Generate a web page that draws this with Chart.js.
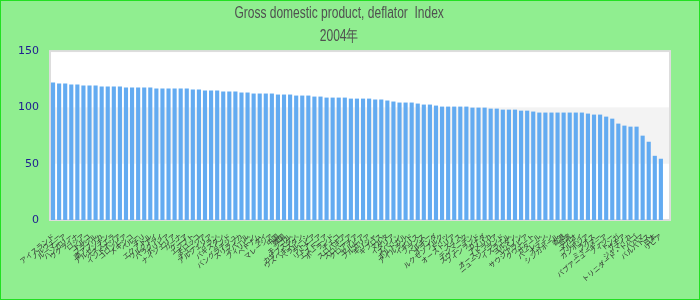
<!DOCTYPE html>
<html>
<head>
<meta charset="utf-8">
<script src="https://cdn.jsdelivr.net/npm/chart.js@4/dist/chart.umd.min.js"></script>
<style>
  html, body { margin: 0; padding: 0; }
  #wrap {
    width: 700px; height: 300px; box-sizing: border-box;
    border: 1px solid #22e022; background: #90ee90;
  }
</style>
</head>
<body>
<div id="wrap"><canvas id="deflator" width="698" height="298"></canvas></div>
<script>
// categories (country names)
var countries = [
  "アイスランド","ノルウェー","ルーマニア","ハンガリー","ウクライナ","ロシア","トルコ","ブラジル","南アフリカ","アルゼンチン",
  "ベネズエラ","インドネシア","コロンビア","メキシコ","ペルー","チリ","エクアドル","ウルグアイ","パラグアイ","ボリビア",
  "ナイジェリア","ガーナ","ケニア","エジプト","モロッコ","チュニジア","アルジェリア","イラン","パキスタン","インド",
  "バングラデシュ","スリランカ","ネパール","フィリピン","ベトナム","タイ","マレーシア","中国","韓国","モンゴル",
  "カザフスタン","ウズベキスタン","ベラルーシ","ラトビア","リトアニア","エストニア","ポーランド","チェコ","スロバキア","スロベニア",
  "クロアチア","セルビア","ブルガリア","ギリシャ","キプロス","マルタ","イタリア","スペイン","ポルトガル","アイルランド",
  "イギリス","フランス","ベルギー","オランダ","ルクセンブルク","ドイツ","オーストリア","スイス","デンマーク","スウェーデン",
  "フィンランド","カナダ","アメリカ","オーストラリア","ニュージーランド","イスラエル","ヨルダン","レバノン","サウジアラビア","クウェート",
  "カタール","バーレーン","オマーン","シンガポール","香港","台湾","マカオ","ブルネイ","カンボジア","ラオス",
  "ミャンマー","パプアニューギニア","フィジー","トンガ","サモア","ジャマイカ","トリニダード・トバゴ","バハマ","バルバドス","日本","リビア",
  ""
];

// deflator index values, 2004
var deflator = [
  122.1,121.2,121.2,120.3,120.3,119.4,119.4,119.4,118.5,118.5,
  118.5,118.5,117.6,117.6,117.6,117.6,117.6,116.8,116.8,116.8,
  116.8,116.8,116.8,115.9,115.9,115.0,115.0,115.0,114.1,114.1,
  114.1,113.2,113.2,112.3,112.3,112.3,112.3,111.4,111.4,111.4,
  110.5,110.5,110.5,109.6,109.6,108.7,108.7,108.7,108.7,107.8,
  107.8,107.8,107.8,107.0,107.0,106.1,105.2,104.3,104.3,104.3,
  103.4,102.5,102.5,101.6,100.7,100.7,100.7,100.7,100.7,99.8,
  99.8,99.8,98.9,98.9,98.0,98.0,98.0,97.1,97.1,96.3,
  95.4,95.4,95.4,95.4,95.4,95.4,95.4,95.4,94.5,93.6,
  93.6,91.8,90.0,85.6,83.8,82.9,82.9,74.9,69.5,57.0,54.4,
  null
];

var yTicks = [0, 50, 100, 150];

// plot background: white area, grey band 50-100, light border
var plotBg = {
  id: "plotBg",
  beforeDatasetsDraw: function (chart) {
    var a = chart.chartArea, c = chart.ctx, y = chart.scales.y;
    c.save();
    c.fillStyle = "#ffffff";
    c.fillRect(a.left, a.top, a.width, a.height);
    c.fillStyle = "#f3f3f3";
    c.fillRect(a.left, y.getPixelForValue(100), a.width, y.getPixelForValue(50) - y.getPixelForValue(100));
    c.strokeStyle = "#dddddd";
    c.lineWidth = 2;
    c.strokeRect(a.left, a.top, a.width, a.height);
    c.restore();
  }
};

// title font is a narrow face: squeeze the title block horizontally
var narrowTitle = {
  id: "narrowTitle",
  afterLayout: function (chart) {
    var tb = chart.titleBlock;
    if (!tb || tb._narrow) return;
    var orig = tb.draw;
    tb.draw = function () {
      var c = chart.ctx, cx = chart.width / 2;
      c.save();
      c.translate(cx, 0);
      c.scale(0.75, 1);
      c.translate(-cx, 0);
      orig.apply(tb, arguments);
      c.restore();
    };
    tb._narrow = true;
  }
};

var ctx = document.getElementById("deflator").getContext("2d");
var myBarChart = new Chart(ctx, {
  type: "bar",
  data: {
    labels: countries,
    datasets: [
      {
        label: "Index",
        data: deflator,
        backgroundColor: "#63abf1",
        barPercentage: 0.85,
        categoryPercentage: 0.8,
      },
    ],
  },
  options: {
    responsive: false,
    animation: false,
    layout: { padding: { left: 0, right: 29, top: 0, bottom: 0 } },
    plugins: {
      legend: { display: false },
      tooltip: { enabled: false },
      title: {
        display: true,
        text: ["Gross domestic product, deflator  Index", "2004年"],
        color: "#505050",
        font: { family: "'Liberation Sans'", size: 16, weight: "normal", lineHeight: 1.44 },
        padding: { top: 1, bottom: 3 },
      },
    },
    scales: {
      x: {
        grid: { display: false, drawTicks: false },
        border: { display: false },
        ticks: {
          autoSkip: false,
          minRotation: 40,
          maxRotation: 40,
          padding: 12,
          color: "#333333",
          font: { family: "'Noto Sans CJK JP'", size: 7 },
        },
        afterFit: function (axis) { axis.height = 79; },
      },
      y: {
        min: 0,
        max: 150,
        afterBuildTicks: function (axis) {
          axis.ticks = yTicks.map(function (v) { return { value: v }; });
        },
        grid: { display: false, drawTicks: false },
        border: { display: false },
        ticks: {
          padding: 11,
          color: "#202090",
          font: { family: "'DejaVu Sans'", size: 11 },
        },
        afterFit: function (axis) { axis.width = 49; },
      },
    },
  },
  plugins: [plotBg, narrowTitle],
});
</script>
</body>
</html>
